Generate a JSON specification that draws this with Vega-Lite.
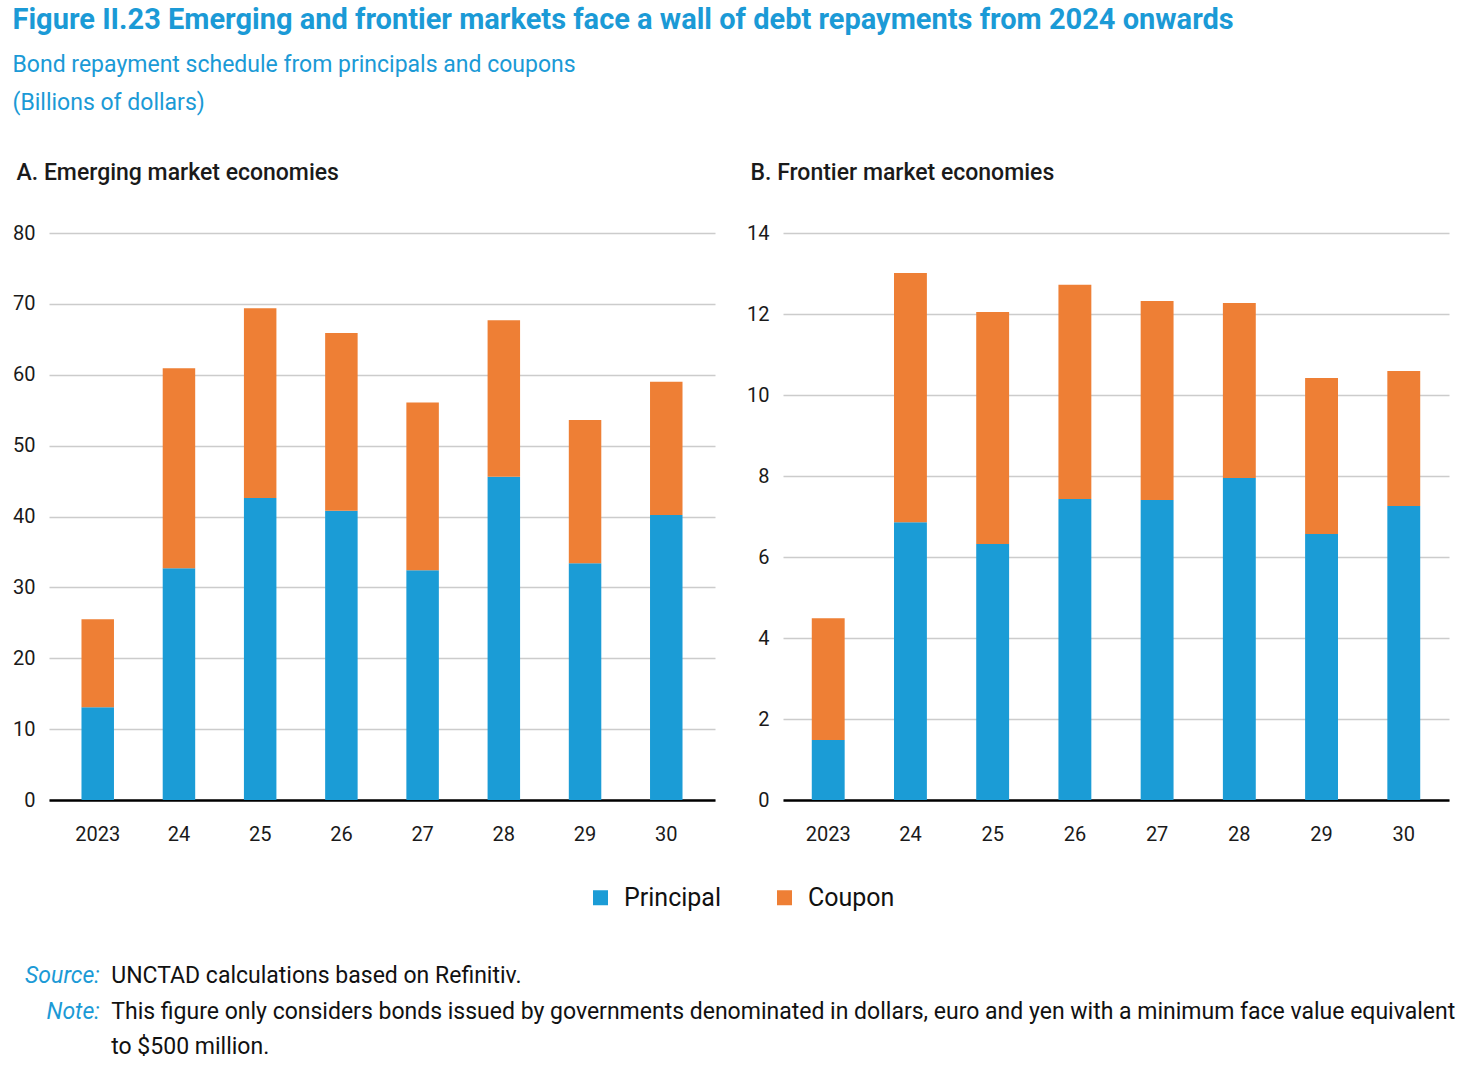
{
  "$schema": "https://vega.github.io/schema/vega-lite/v6.json",
  "padding": {"left": 12, "top": 6, "right": 10, "bottom": 0},
  "background": "white",
  "title": {
    "text": "Figure II.23  Emerging and frontier markets face a wall of debt repayments from 2024 onwards",
    "subtitle": ["Bond repayment schedule from principals and coupons", "(Billions of dollars)"],
    "anchor": "start",
    "frame": "bounds",
    "fontSize": 29,
    "fontWeight": "bold",
    "color": "#1B9AD6",
    "subtitleColor": "#1B9AD6",
    "subtitleFontSize": 23,
    "subtitleLineHeight": 38,
    "subtitlePadding": 19,
    "offset": 47,
    "dx": 0
  },
  "datasets": {
    "bonds": [
      {"panel": "A", "year": "2023", "type": "Principal", "value": 13.1},
      {"panel": "A", "year": "24", "type": "Principal", "value": 32.7},
      {"panel": "A", "year": "25", "type": "Principal", "value": 42.6},
      {"panel": "A", "year": "26", "type": "Principal", "value": 40.8},
      {"panel": "A", "year": "27", "type": "Principal", "value": 32.4},
      {"panel": "A", "year": "28", "type": "Principal", "value": 45.6},
      {"panel": "A", "year": "29", "type": "Principal", "value": 33.4},
      {"panel": "A", "year": "30", "type": "Principal", "value": 40.2},
      {"panel": "A", "year": "2023", "type": "Coupon", "value": 12.4},
      {"panel": "A", "year": "24", "type": "Coupon", "value": 28.2},
      {"panel": "A", "year": "25", "type": "Coupon", "value": 26.8},
      {"panel": "A", "year": "26", "type": "Coupon", "value": 25.1},
      {"panel": "A", "year": "27", "type": "Coupon", "value": 23.7},
      {"panel": "A", "year": "28", "type": "Coupon", "value": 22.1},
      {"panel": "A", "year": "29", "type": "Coupon", "value": 20.2},
      {"panel": "A", "year": "30", "type": "Coupon", "value": 18.8},
      {"panel": "B", "year": "2023", "type": "Principal", "value": 1.48},
      {"panel": "B", "year": "24", "type": "Principal", "value": 6.86},
      {"panel": "B", "year": "25", "type": "Principal", "value": 6.32},
      {"panel": "B", "year": "26", "type": "Principal", "value": 7.43},
      {"panel": "B", "year": "27", "type": "Principal", "value": 7.41},
      {"panel": "B", "year": "28", "type": "Principal", "value": 7.95},
      {"panel": "B", "year": "29", "type": "Principal", "value": 6.57},
      {"panel": "B", "year": "30", "type": "Principal", "value": 7.26},
      {"panel": "B", "year": "2023", "type": "Coupon", "value": 3.01},
      {"panel": "B", "year": "24", "type": "Coupon", "value": 6.15},
      {"panel": "B", "year": "25", "type": "Coupon", "value": 5.73},
      {"panel": "B", "year": "26", "type": "Coupon", "value": 5.29},
      {"panel": "B", "year": "27", "type": "Coupon", "value": 4.91},
      {"panel": "B", "year": "28", "type": "Coupon", "value": 4.32},
      {"panel": "B", "year": "29", "type": "Coupon", "value": 3.85},
      {"panel": "B", "year": "30", "type": "Coupon", "value": 3.33}
    ],
    "notes": [
      {"line": 1, "label": "Source:", "text": "UNCTAD calculations based on Refinitiv."},
      {"line": 2, "label": "Note:", "text": "This figure only considers bonds issued by governments denominated in dollars, euro and yen with a minimum face value equivalent"},
      {"line": 3, "label": "", "text": "to $500 million."}
    ]
  },
  "vconcat": [
    {
      "hconcat": [
        {
          "title": {"text": "A. Emerging market economies"},
          "data": {"name": "bonds"},
          "transform": [{"filter": "datum.panel === 'A'"}],
          "width": 666,
          "height": 567,
          "mark": {"type": "bar"},
          "encoding": {
            "x": {
              "field": "year", "type": "nominal",
              "sort": ["2023", "24", "25", "26", "27", "28", "29", "30"],
              "scale": {"paddingInner": 0.6, "paddingOuter": 0.4},
              "axis": {"title": null, "labelAngle": 0}
            },
            "y": {
              "field": "value", "type": "quantitative", "stack": "zero",
              "scale": {"domain": [0, 80]},
              "axis": {"title": null, "values": [0, 10, 20, 30, 40, 50, 60, 70, 80]}
            },
            "color": {
              "field": "type", "type": "nominal",
              "scale": {"domain": ["Principal", "Coupon"], "range": ["#1B9CD6", "#EE7F35"]},
              "legend": {"title": null}
            },
            "order": {"field": "type", "sort": "descending"}
          }
        },
        {
          "title": {"text": "B. Frontier market economies"},
          "data": {"name": "bonds"},
          "transform": [{"filter": "datum.panel === 'B'"}],
          "width": 666,
          "height": 567,
          "mark": {"type": "bar"},
          "encoding": {
            "x": {
              "field": "year", "type": "nominal",
              "sort": ["2023", "24", "25", "26", "27", "28", "29", "30"],
              "scale": {"paddingInner": 0.6, "paddingOuter": 0.35},
              "axis": {"title": null, "labelAngle": 0}
            },
            "y": {
              "field": "value", "type": "quantitative", "stack": "zero",
              "scale": {"domain": [0, 14]},
              "axis": {"title": null, "values": [0, 2, 4, 6, 8, 10, 12, 14]}
            },
            "color": {
              "field": "type", "type": "nominal",
              "scale": {"domain": ["Principal", "Coupon"], "range": ["#1B9CD6", "#EE7F35"]},
              "legend": {"title": null}
            },
            "order": {"field": "type", "sort": "descending"}
          }
        }
      ],
      "spacing": 31
    },
    {
      "data": {"name": "notes"},
      "width": 1390,
      "height": 71,
      "encoding": {
        "y": {"field": "line", "type": "ordinal", "scale": {"type": "point", "padding": 0}, "axis": null}
      },
      "layer": [
        {
          "mark": {"type": "text", "align": "right", "baseline": "middle", "fontSize": 23, "fontStyle": "italic", "color": "#1B9AD6"},
          "encoding": {
            "x": {"datum": "label", "type": "nominal", "scale": {"type": "point", "domain": ["label", "text"], "range": [45, 68]}, "axis": null},
            "text": {"field": "label"}
          }
        },
        {
          "mark": {"type": "text", "align": "left", "baseline": "middle", "fontSize": 23, "color": "#111111"},
          "encoding": {
            "x": {"datum": "text", "type": "nominal", "scale": {"type": "point", "domain": ["label", "text"], "range": [45, 68]}, "axis": null},
            "text": {"field": "text"}
          }
        }
      ]
    }
  ],
  "spacing": 121,
  "config": {
    "font": "Roboto, sans-serif",
    "view": {"stroke": null},
    "title": {
      "anchor": "start",
      "frame": "bounds",
      "fontSize": 23,
      "fontWeight": 500,
      "color": "#1a1a1a",
      "offset": 38,
      "dx": 4
    },
    "axisX": {
      "domain": true,
      "domainColor": "#000000",
      "domainWidth": 2.5,
      "ticks": false,
      "grid": false,
      "labelFontSize": 20,
      "labelColor": "#1a1a1a",
      "labelPadding": 24
    },
    "axisY": {
      "domain": false,
      "ticks": false,
      "grid": true,
      "gridColor": "#cccccc",
      "gridWidth": 1.5,
      "labelFontSize": 20,
      "labelColor": "#1a1a1a",
      "labelPadding": 14
    },
    "legend": {
      "orient": "none",
      "direction": "horizontal",
      "legendX": 539,
      "legendY": 652,
      "symbolType": "square",
      "symbolSize": 225,
      "symbolStrokeWidth": 0,
      "labelFontSize": 25,
      "labelColor": "#111111",
      "labelOffset": 11,
      "columnPadding": 50,
      "labelLimit": 300
    }
  }
}
